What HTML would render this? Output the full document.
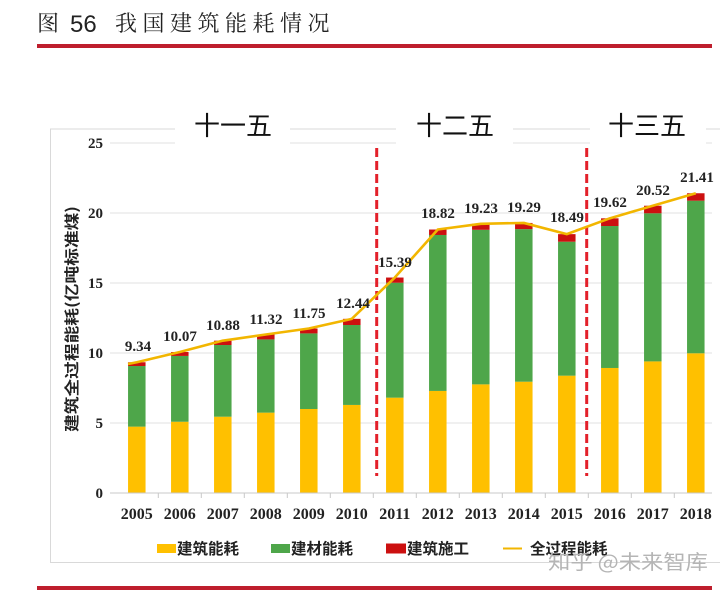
<!DOCTYPE html>
<html>
<head>
<meta charset="utf-8">
<style>
html,body{margin:0;padding:0;background:#fff;}
svg{display:block;}
.cjk{font-family:"Liberation Sans","Noto Sans CJK SC",sans-serif;}
.num{font-family:"Liberation Serif",serif;font-weight:bold;}
</style>
</head>
<body>
<svg width="720" height="592" viewBox="0 0 720 592" xmlns="http://www.w3.org/2000/svg">
  <!-- Title -->
  <text x="37" y="31" font-family="Noto Serif CJK SC, serif" font-size="22" fill="#222">图</text>
  <text x="70" y="32" font-family="Liberation Sans, sans-serif" font-size="24" fill="#222">56</text>
  <text x="115" y="31" font-family="Noto Serif CJK SC, serif" font-size="22" letter-spacing="5.5" fill="#222">我国建筑能耗情况</text>
  <rect x="37" y="44" width="675" height="4" fill="#BE1E2D"/>

  <!-- Frame -->
  <line x1="50.5" y1="129" x2="50.5" y2="563" stroke="#d9d9d9" stroke-width="1"/>
  <line x1="50" y1="562.5" x2="720" y2="562.5" stroke="#d9d9d9" stroke-width="1"/>
  <line x1="50" y1="129" x2="720" y2="129" stroke="#d9d9d9" stroke-width="1"/>

  <!-- Gridlines -->
  <g stroke="#e2e2e2" stroke-width="1">
    <line x1="110" y1="143" x2="712" y2="143"/>
    <line x1="110" y1="213" x2="712" y2="213"/>
    <line x1="110" y1="283" x2="712" y2="283"/>
    <line x1="110" y1="353" x2="712" y2="353"/>
    <line x1="110" y1="423" x2="712" y2="423"/>
  </g>

  <!-- White backgrounds for period labels -->
  <rect x="175" y="115" width="115" height="36" fill="#fff"/>
  <rect x="396" y="115" width="117" height="36" fill="#fff"/>
  <rect x="590" y="115" width="116" height="36" fill="#fff"/>
  <g font-family="Noto Sans CJK SC, sans-serif" font-size="26" fill="#111" text-anchor="middle">
    <text x="233" y="135">十一五</text>
    <text x="455" y="135">十二五</text>
    <text x="647" y="135">十三五</text>
  </g>

  <!-- Y axis labels -->
  <g class="num" font-size="15" fill="#222" text-anchor="end">
    <text x="103" y="148">25</text>
    <text x="103" y="218">20</text>
    <text x="103" y="288">15</text>
    <text x="103" y="358">10</text>
    <text x="103" y="428">5</text>
    <text x="103" y="498">0</text>
  </g>

  <!-- Y axis title -->
  <text transform="translate(77,319) rotate(-90)" text-anchor="middle" font-family="Noto Sans CJK SC, sans-serif" font-weight="bold" font-size="15" fill="#222" textLength="226" lengthAdjust="spacingAndGlyphs">建筑全过程能耗(亿吨标准煤)</text>

  <!-- Bars -->
  <g>
    <!-- 2005 -->
    <rect x="128.05" y="426.64" width="17.5" height="66.36" fill="#FFC000"/>
    <rect x="128.05" y="366.02" width="17.5" height="60.62" fill="#4EA64A"/>
    <rect x="128.05" y="362.24" width="17.5" height="3.78" fill="#CC1010"/>
    <!-- 2006 -->
    <rect x="171.05" y="421.74" width="17.5" height="71.26" fill="#FFC000"/>
    <rect x="171.05" y="355.94" width="17.5" height="65.8" fill="#4EA64A"/>
    <rect x="171.05" y="352.02" width="17.5" height="3.92" fill="#CC1010"/>
    <!-- 2007 -->
    <rect x="214.05" y="416.7" width="17.5" height="76.3" fill="#FFC000"/>
    <rect x="214.05" y="345.02" width="17.5" height="71.68" fill="#4EA64A"/>
    <rect x="214.05" y="340.68" width="17.5" height="4.34" fill="#CC1010"/>
    <!-- 2008 -->
    <rect x="257.05" y="412.64" width="17.5" height="80.36" fill="#FFC000"/>
    <rect x="257.05" y="339.42" width="17.5" height="73.22" fill="#4EA64A"/>
    <rect x="257.05" y="334.52" width="17.5" height="4.9" fill="#CC1010"/>
    <!-- 2009 -->
    <rect x="300.05" y="409" width="17.5" height="84" fill="#FFC000"/>
    <rect x="300.05" y="333.4" width="17.5" height="75.6" fill="#4EA64A"/>
    <rect x="300.05" y="328.5" width="17.5" height="4.9" fill="#CC1010"/>
    <!-- 2010 -->
    <rect x="343.05" y="404.94" width="17.5" height="88.06" fill="#FFC000"/>
    <rect x="343.05" y="325" width="17.5" height="79.94" fill="#4EA64A"/>
    <rect x="343.05" y="318.84" width="17.5" height="6.16" fill="#CC1010"/>
    <!-- 2011 -->
    <rect x="386.05" y="397.66" width="17.5" height="95.34" fill="#FFC000"/>
    <rect x="386.05" y="282.72" width="17.5" height="114.94" fill="#4EA64A"/>
    <rect x="386.05" y="277.54" width="17.5" height="5.18" fill="#CC1010"/>
    <!-- 2012 -->
    <rect x="429.05" y="390.94" width="17.5" height="102.06" fill="#FFC000"/>
    <rect x="429.05" y="234.98" width="17.5" height="155.96" fill="#4EA64A"/>
    <rect x="429.05" y="229.52" width="17.5" height="5.46" fill="#CC1010"/>
    <!-- 2013 -->
    <rect x="472.05" y="384.36" width="17.5" height="108.64" fill="#FFC000"/>
    <rect x="472.05" y="229.8" width="17.5" height="154.56" fill="#4EA64A"/>
    <rect x="472.05" y="223.78" width="17.5" height="6.02" fill="#CC1010"/>
    <!-- 2014 -->
    <rect x="515.05" y="381.7" width="17.5" height="111.3" fill="#FFC000"/>
    <rect x="515.05" y="229.1" width="17.5" height="152.6" fill="#4EA64A"/>
    <rect x="515.05" y="222.94" width="17.5" height="6.16" fill="#CC1010"/>
    <!-- 2015 -->
    <rect x="558.05" y="375.68" width="17.5" height="117.32" fill="#FFC000"/>
    <rect x="558.05" y="241.7" width="17.5" height="133.98" fill="#4EA64A"/>
    <rect x="558.05" y="234.14" width="17.5" height="7.56" fill="#CC1010"/>
    <!-- 2016 -->
    <rect x="601.05" y="367.98" width="17.5" height="125.02" fill="#FFC000"/>
    <rect x="601.05" y="226.02" width="17.5" height="141.96" fill="#4EA64A"/>
    <rect x="601.05" y="218.32" width="17.5" height="7.7" fill="#CC1010"/>
    <!-- 2017 -->
    <rect x="644.05" y="361.4" width="17.5" height="131.6" fill="#FFC000"/>
    <rect x="644.05" y="213.28" width="17.5" height="148.12" fill="#4EA64A"/>
    <rect x="644.05" y="205.72" width="17.5" height="7.56" fill="#CC1010"/>
    <!-- 2018 -->
    <rect x="687.05" y="353.28" width="17.5" height="139.72" fill="#FFC000"/>
    <rect x="687.05" y="200.68" width="17.5" height="152.6" fill="#4EA64A"/>
    <rect x="687.05" y="193.26" width="17.5" height="7.42" fill="#CC1010"/>
  </g>

  <!-- X axis -->
  <line x1="110" y1="493" x2="712" y2="493" stroke="#c8c8c8" stroke-width="1"/>
  <g stroke="#c8c8c8" stroke-width="1">
    <line x1="158.3" y1="493" x2="158.3" y2="498"/>
    <line x1="201.3" y1="493" x2="201.3" y2="498"/>
    <line x1="244.3" y1="493" x2="244.3" y2="498"/>
    <line x1="287.3" y1="493" x2="287.3" y2="498"/>
    <line x1="330.3" y1="493" x2="330.3" y2="498"/>
    <line x1="373.3" y1="493" x2="373.3" y2="498"/>
    <line x1="416.3" y1="493" x2="416.3" y2="498"/>
    <line x1="459.3" y1="493" x2="459.3" y2="498"/>
    <line x1="502.3" y1="493" x2="502.3" y2="498"/>
    <line x1="545.3" y1="493" x2="545.3" y2="498"/>
    <line x1="588.3" y1="493" x2="588.3" y2="498"/>
    <line x1="631.3" y1="493" x2="631.3" y2="498"/>
    <line x1="674.3" y1="493" x2="674.3" y2="498"/>
  </g>
  <g class="num" font-size="16" fill="#222" text-anchor="middle">
    <text x="136.8" y="519">2005</text>
    <text x="179.8" y="519">2006</text>
    <text x="222.8" y="519">2007</text>
    <text x="265.8" y="519">2008</text>
    <text x="308.8" y="519">2009</text>
    <text x="351.8" y="519">2010</text>
    <text x="394.8" y="519">2011</text>
    <text x="437.8" y="519">2012</text>
    <text x="480.8" y="519">2013</text>
    <text x="523.8" y="519">2014</text>
    <text x="566.8" y="519">2015</text>
    <text x="609.8" y="519">2016</text>
    <text x="652.8" y="519">2017</text>
    <text x="695.8" y="519">2018</text>
  </g>

  <!-- Dashed red dividers -->
  <g stroke="#E3202A" stroke-width="3" stroke-dasharray="9,4">
    <line x1="376.7" y1="148" x2="376.7" y2="476"/>
    <line x1="586.7" y1="148" x2="586.7" y2="476"/>
  </g>

  <!-- Total line -->
  <polyline fill="none" stroke="#F2B600" stroke-width="2.6" stroke-linejoin="round"
    points="128,364 136.8,362.24 179.8,352.02 222.8,340.68 265.8,334.52 308.8,328.5 351.8,318.84 394.8,277.54 437.8,229.52 480.8,223.78 523.8,222.94 566.8,234.14 609.8,218.32 652.8,205.72 695.8,193.26"/>

  <!-- Value labels -->
  <g class="num" font-size="15" fill="#222" text-anchor="middle">
    <text x="138" y="351">9.34</text>
    <text x="180" y="341">10.07</text>
    <text x="223" y="330">10.88</text>
    <text x="266" y="324">11.32</text>
    <text x="309" y="318">11.75</text>
    <text x="353" y="308">12.44</text>
    <text x="395" y="267">15.39</text>
    <text x="438" y="218">18.82</text>
    <text x="481" y="213">19.23</text>
    <text x="524" y="212">19.29</text>
    <text x="567" y="222">18.49</text>
    <text x="610" y="207">19.62</text>
    <text x="653" y="195">20.52</text>
    <text x="697" y="182">21.41</text>
  </g>

  <!-- Legend -->
  <rect x="157" y="544" width="19" height="9" fill="#FFC000"/>
  <rect x="271" y="544" width="19" height="9" fill="#4EA64A"/>
  <rect x="386" y="543.5" width="20" height="10" fill="#CC1010"/>
  <line x1="503" y1="548.5" x2="522" y2="548.5" stroke="#F2B600" stroke-width="2"/>
  <g font-family="Noto Sans CJK SC, sans-serif" font-weight="bold" font-size="15.5" fill="#222">
    <text x="177" y="554">建筑能耗</text>
    <text x="291" y="554">建材能耗</text>
    <text x="407" y="554">建筑施工</text>
    <text x="530" y="554">全过程能耗</text>
  </g>

  <!-- Watermark -->
  <text x="548" y="569" font-family="Noto Sans CJK SC, sans-serif" font-size="20" fill="#b5b5b5" textLength="160" lengthAdjust="spacingAndGlyphs">知乎 @未来智库</text>

  <!-- Bottom red line -->
  <rect x="37" y="586" width="675" height="4" fill="#BE1E2D"/>
</svg>
</body>
</html>
